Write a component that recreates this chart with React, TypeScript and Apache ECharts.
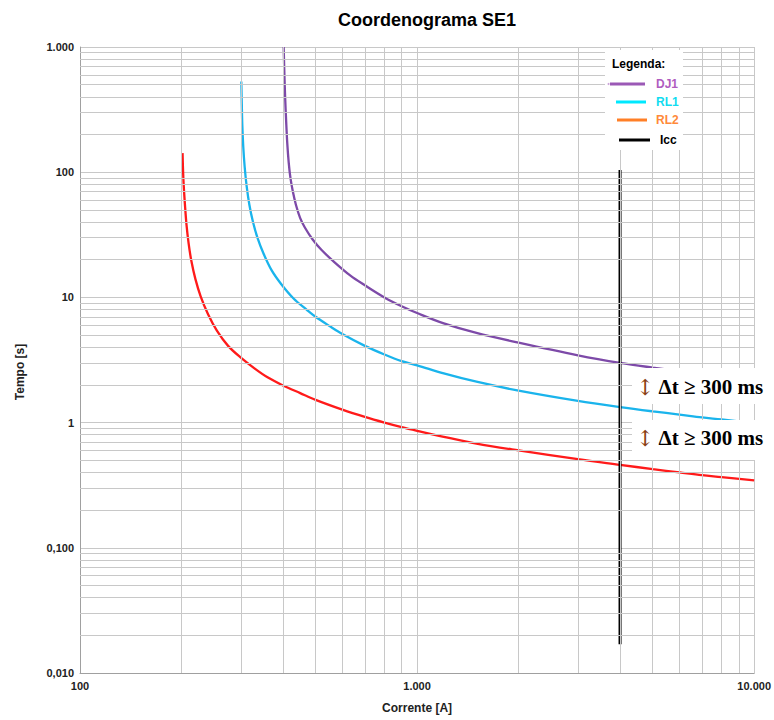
import React, { useEffect, useRef } from "react";
import * as echarts from "echarts";

// ---- data ----
const TITLE = "Coordenograma SE1";
const X_NAME = "Corrente [A]";
const Y_NAME = "Tempo [s]";

const DJ1_CURRENT = [402, 404, 406, 409, 412, 416, 421, 428, 437, 450, 465, 490, 520, 564, 633, 700, 800, 900, 1000, 1200, 1500, 2000, 3000, 4000, 5000, 6000, 8000, 10000];
const DJ1_TIME = [1000, 600, 400, 250, 170, 120, 90, 70, 55, 43, 36, 29, 24, 19.5, 15.0, 12.5, 10, 8.5, 7.5, 6.2, 5.2, 4.35, 3.45, 3.0, 2.75, 2.58, 2.35, 2.2];

const RL1_CURRENT = [301, 302, 303, 305, 308, 312, 318, 326, 336, 350, 370, 395, 430, 470, 500, 550, 600, 700, 800, 900, 1000, 1200, 1500, 2000, 3000, 4000, 5000, 6000, 7000, 8000, 10000];
const RL1_TIME = [530, 350, 240, 160, 110, 78, 55, 40, 30, 22.5, 16.5, 12.8, 9.8, 8.0, 7.0, 5.9, 5.1, 4.1, 3.5, 3.1, 2.87, 2.47, 2.12, 1.8, 1.49, 1.33, 1.23, 1.16, 1.1, 1.06, 0.99];

const RL2_CURRENT = [201.5, 202, 203, 205, 207, 210, 214, 220, 228, 240, 255, 275, 300, 330, 360, 400, 450, 500, 600, 700, 800, 900, 1000, 1200, 1500, 2000, 3000, 4000, 5000, 6000, 7000, 8000, 10000];
const RL2_TIME = [142, 110, 80, 53, 38, 27, 19.5, 14, 10.2, 7.3, 5.4, 4.1, 3.3, 2.7, 2.3, 1.98, 1.72, 1.52, 1.27, 1.11, 1.0, 0.92, 0.86, 0.77, 0.68, 0.6, 0.51, 0.46, 0.425, 0.4, 0.38, 0.367, 0.345];

const ICC_CURRENT = [4000, 4000];
const ICC_TIME = [0.017, 104];

const X_MINOR = [200, 300, 400, 500, 600, 700, 800, 900, 2000, 3000, 4000, 5000, 6000, 7000, 8000, 9000];
const Y_MINOR = [
  0.02, 0.03, 0.04, 0.05, 0.06, 0.07, 0.08, 0.09,
  0.2, 0.3, 0.4, 0.5, 0.6, 0.7, 0.8, 0.9,
  2, 3, 4, 5, 6, 7, 8, 9,
  20, 30, 40, 50, 60, 70, 80, 90,
  200, 300, 400, 500, 600, 700, 800, 900,
];

const LEGEND_TITLE = "Legenda:";
const LEGEND_NAMES = ["DJ1", "RL1", "RL2", "Icc"];
const DELTA_LABEL = "Δt ≥ 300 ms";

const zip = (xs: number[], ys: number[]) => xs.map((x, i) => [x, ys[i]]);

const SANS = "'Liberation Sans', Arial, sans-serif";
const SERIF = "'Liberation Serif', 'Times New Roman', serif";

function fmtTick(v: number): string {
  if (v >= 1) {
    const n = Math.round(v);
    return String(n).replace(/\B(?=(\d{3})+(?!\d))/g, ".");
  }
  return v.toFixed(3).replace(".", ",");
}

export default function App() {
  const ref = useRef<HTMLDivElement>(null);

  useEffect(() => {
    if (!ref.current) return;
    const chart = echarts.init(ref.current, undefined, { renderer: "svg" });

    const gridColor = "#c8c8c8";

    const legendItems = [
      { line: "#9b59b6", text: "#b05cc0", x1: 610, x2: 645, y: 84, tx: 656 },
      { line: "#00e8ff", text: "#10dcf0", x1: 616, x2: 646, y: 102, tx: 656 },
      { line: "#ff7f27", text: "#ff8a3a", x1: 617, x2: 647, y: 120, tx: 656 },
      { line: "#000000", text: "#000000", x1: 619, x2: 650, y: 140, tx: 660 },
    ];

    const deltaText = (y: number) => ({
      type: "text", z: 101, x: 636, y,
      style: {
        text: "{a|↕} " + DELTA_LABEL,
        verticalAlign: "middle",
        align: "left",
        font: `bold 21px ${SERIF}`,
        fill: "#000",
        rich: { a: { fill: "#8a3f12", font: `22px 'DejaVu Serif', ${SERIF}` } },
      },
    });

    const graphics: any[] = [
      // white boxes behind the annotations
      { type: "rect", z: 100, shape: { x: 632, y: 368, width: 142, height: 36 }, style: { fill: "#ffffff" } },
      { type: "rect", z: 100, shape: { x: 632, y: 420, width: 142, height: 40 }, style: { fill: "#ffffff" } },
      deltaText(387),
      deltaText(438),
      // legend box
      { type: "rect", z: 100, shape: { x: 605, y: 50, width: 78, height: 100 }, style: { fill: "#ffffff" } },
      {
        type: "text", z: 101, x: 612, y: 64,
        style: { text: LEGEND_TITLE, font: `bold 12px ${SANS}`, fill: "#000", verticalAlign: "middle" },
      },
      // y axis title
      {
        type: "text", z: 101, x: 20, y: 372, rotation: Math.PI / 2,
        style: { text: Y_NAME, font: `bold 12px ${SANS}`, fill: "#222", align: "center", verticalAlign: "middle" },
      },
    ];
    legendItems.forEach((it, i) => {
      graphics.push({
        type: "line", z: 101,
        shape: { x1: it.x1, y1: it.y, x2: it.x2, y2: it.y },
        style: { stroke: it.line, lineWidth: 3 },
      });
      graphics.push({
        type: "text", z: 101, x: it.tx, y: it.y,
        style: { text: LEGEND_NAMES[i], font: `bold 12px ${SANS}`, fill: it.text, verticalAlign: "middle" },
      });
    });
    graphics.push({ type: "circle", z: 101, shape: { cx: 608.5, cy: 84, r: 1 }, style: { fill: "#c9a0d8" } });

    const curve = (name: string, xs: number[], ys: number[], color: string) => ({
      name,
      type: "line",
      data: zip(xs, ys),
      showSymbol: false,
      smooth: 0.35,
      z: 3,
      lineStyle: { color, width: 2.3 },
    });

    chart.setOption({
      animation: false,
      backgroundColor: "#ffffff",
      title: {
        text: TITLE,
        left: 422,
        top: 6,
        textAlign: "center",
        textStyle: { fontFamily: SANS, fontWeight: "bold", fontSize: 18, color: "#000" },
      },
      grid: { left: 80, right: 9, top: 47, bottom: 47, containLabel: false },
      xAxis: {
        type: "log",
        logBase: 10,
        min: 100,
        max: 10000,
        name: X_NAME,
        nameLocation: "middle",
        nameGap: 29,
        nameTextStyle: { fontFamily: SANS, fontWeight: "bold", fontSize: 12, color: "#222" },
        axisLine: { show: true, lineStyle: { color: "#a0a0a0", width: 1 } },
        axisTick: { show: false },
        splitLine: { show: true, lineStyle: { color: gridColor, width: 1 } },
        axisLabel: {
          formatter: (v: number) => fmtTick(v),
          fontFamily: SANS, fontWeight: "bold", fontSize: 11, color: "#222", margin: 7,
          showMinLabel: true, showMaxLabel: true,
        },
      },
      yAxis: {
        type: "log",
        logBase: 10,
        min: 0.01,
        max: 1000,
        axisLine: { show: true, lineStyle: { color: "#a0a0a0", width: 1 } },
        axisTick: { show: false },
        splitLine: { show: true, lineStyle: { color: gridColor, width: 1 } },
        axisLabel: {
          formatter: (v: number) => fmtTick(v),
          fontFamily: SANS, fontWeight: "bold", fontSize: 11, color: "#222", margin: 6,
          showMinLabel: true, showMaxLabel: true,
        },
      },
      series: [
        {
          name: "grid-minor",
          type: "line",
          data: [],
          z: 1,
          silent: true,
          markLine: {
            silent: true,
            animation: false,
            symbol: ["none", "none"],
            label: { show: false },
            lineStyle: { color: gridColor, width: 1, type: "solid" },
            emphasis: { disabled: true },
            data: [
              ...X_MINOR.map((v) => ({ xAxis: v })),
              ...Y_MINOR.map((v) => ({ yAxis: v })),
            ],
          },
        },
        curve("RL2", RL2_CURRENT, RL2_TIME, "#ff1a1a"),
        curve("RL1", RL1_CURRENT, RL1_TIME, "#1ab4ec"),
        curve("DJ1", DJ1_CURRENT, DJ1_TIME, "#7d4aa8"),
        {
          name: "Icc",
          type: "line",
          data: zip(ICC_CURRENT, ICC_TIME),
          showSymbol: false,
          z: 4,
          lineStyle: { color: "#000000", width: 3 },
        },
      ],
      graphic: { elements: graphics },
    });

    return () => chart.dispose();
  }, []);

  return (
    <div
      ref={ref}
      style={{ position: "absolute", left: 0, top: 0, width: 774, height: 720, background: "#fff" }}
    />
  );
}
